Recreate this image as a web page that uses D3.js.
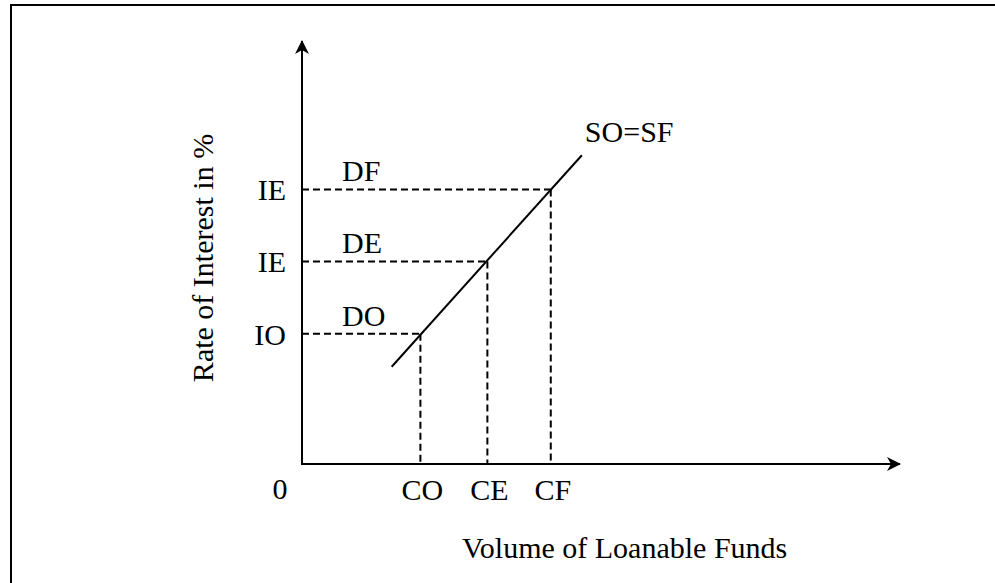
<!DOCTYPE html>
<html>
<head>
<meta charset="utf-8">
<script src="https://cdn.jsdelivr.net/npm/d3@7"></script>
<style>
  body { margin: 0; background: #fff; }
  svg text { font-family: "Liberation Serif", "Times New Roman", serif; fill: #000; }
</style>
</head>
<body>
<div id="chart"></div>
<script>
// -------------------------------
// Data (abstract units, 0..100 on both axes)
// -------------------------------
const qtyLabels = ["CO", "CE", "CF"];
const qtyValues = [19.8, 31.0, 41.6];
const rateLabels = ["IO", "IE", "IE"];
const rateValues = [30.8, 47.9, 64.9];
const demandLabels = ["DO", "DE", "DF"];
const supplyQty = [15.0, 46.8];
const supplyRate = [23.0, 73.0];
const supplyLabel = "SO=SF";

const W = 995, H = 583;
const fontSize = 30;

const svg = d3.select("#chart").append("svg")
  .attr("width", W)
  .attr("height", H);

// frame (only left and top edges fall inside the picture)
svg.append("rect")
  .attr("x", 11).attr("y", 5)
  .attr("width", W + 20).attr("height", H + 20)
  .attr("fill", "none")
  .attr("stroke", "#000")
  .attr("stroke-width", 2);

const x = d3.scaleLinear().domain([0, 100]).range([302, 900]);
const y = d3.scaleLinear().domain([0, 100]).range([464, 41]);

// arrowhead marker
const defs = svg.append("defs");
defs.append("marker")
  .attr("id", "arrow")
  .attr("viewBox", "0 0 14 14")
  .attr("refX", 13).attr("refY", 7)
  .attr("markerWidth", 14).attr("markerHeight", 14)
  .attr("markerUnits", "userSpaceOnUse")
  .attr("orient", "auto")
  .append("path")
    .attr("d", "M0,0 L14,7 L0,14 L4,7 Z")
    .attr("fill", "#000");

// --------------------
// Axes
// --------------------
svg.append("line")
  .attr("x1", x(0)).attr("y1", y(0))
  .attr("x2", x(0)).attr("y2", y(100))
  .attr("stroke", "#000").attr("stroke-width", 2)
  .attr("marker-end", "url(#arrow)");

svg.append("line")
  .attr("x1", x(0) - 1).attr("y1", y(0))
  .attr("x2", x(100)).attr("y2", y(0))
  .attr("stroke", "#000").attr("stroke-width", 2)
  .attr("marker-end", "url(#arrow)");

// --------------------
// Dashed guides
// --------------------
const pts = qtyValues.map((q, i) => ({ q, r: rateValues[i], ql: qtyLabels[i], rl: rateLabels[i], dl: demandLabels[i] }));

svg.selectAll(".hguide")
  .data(pts)
  .enter().append("line")
    .attr("class", "hguide")
    .attr("x1", x(0)).attr("x2", d => x(d.q))
    .attr("y1", d => y(d.r)).attr("y2", d => y(d.r))
    .attr("stroke", "#000").attr("stroke-width", 2)
    .attr("stroke-dasharray", "7,4");

svg.selectAll(".vguide")
  .data(pts)
  .enter().append("line")
    .attr("class", "vguide")
    .attr("x1", d => x(d.q)).attr("x2", d => x(d.q))
    .attr("y1", d => y(d.r)).attr("y2", y(0))
    .attr("stroke", "#000").attr("stroke-width", 2)
    .attr("stroke-dasharray", "7,4");

// --------------------
// Supply line
// --------------------
svg.append("line")
  .attr("x1", x(supplyQty[0])).attr("y1", y(supplyRate[0]))
  .attr("x2", x(supplyQty[1])).attr("y2", y(supplyRate[1]))
  .attr("stroke", "#000").attr("stroke-width", 2);

svg.append("text")
  .attr("x", x(supplyQty[1]) + 3)
  .attr("y", y(supplyRate[1]) - 13)
  .attr("font-size", fontSize)
  .text(supplyLabel);

// --------------------
// Labels
// --------------------
svg.selectAll(".rlab")
  .data(pts)
  .enter().append("text")
    .attr("class", "rlab")
    .attr("x", x(0) - 16)
    .attr("y", d => y(d.r) + 11)
    .attr("text-anchor", "end")
    .attr("font-size", fontSize)
    .text(d => d.rl);

svg.selectAll(".dlab")
  .data(pts)
  .enter().append("text")
    .attr("class", "dlab")
    .attr("x", x(0) + 40)
    .attr("y", d => y(d.r) - 8)
    .attr("font-size", fontSize)
    .text(d => d.dl);

svg.selectAll(".qlab")
  .data(pts)
  .enter().append("text")
    .attr("class", "qlab")
    .attr("x", d => x(d.q) + 2)
    .attr("y", y(0) + 36)
    .attr("text-anchor", "middle")
    .attr("font-size", fontSize)
    .text(d => d.ql);

svg.append("text")
  .attr("x", x(0) - 22)
  .attr("y", y(0) + 35)
  .attr("text-anchor", "middle")
  .attr("font-size", fontSize)
  .text("0");

// axis titles
svg.append("text")
  .attr("x", 462)
  .attr("y", 558)
  .attr("font-size", fontSize)
  .text("Volume of Loanable Funds");

svg.append("text")
  .attr("transform", "translate(213,258) rotate(-90)")
  .attr("text-anchor", "middle")
  .attr("font-size", fontSize)
  .text("Rate of Interest in %");
</script>
</body>
</html>
